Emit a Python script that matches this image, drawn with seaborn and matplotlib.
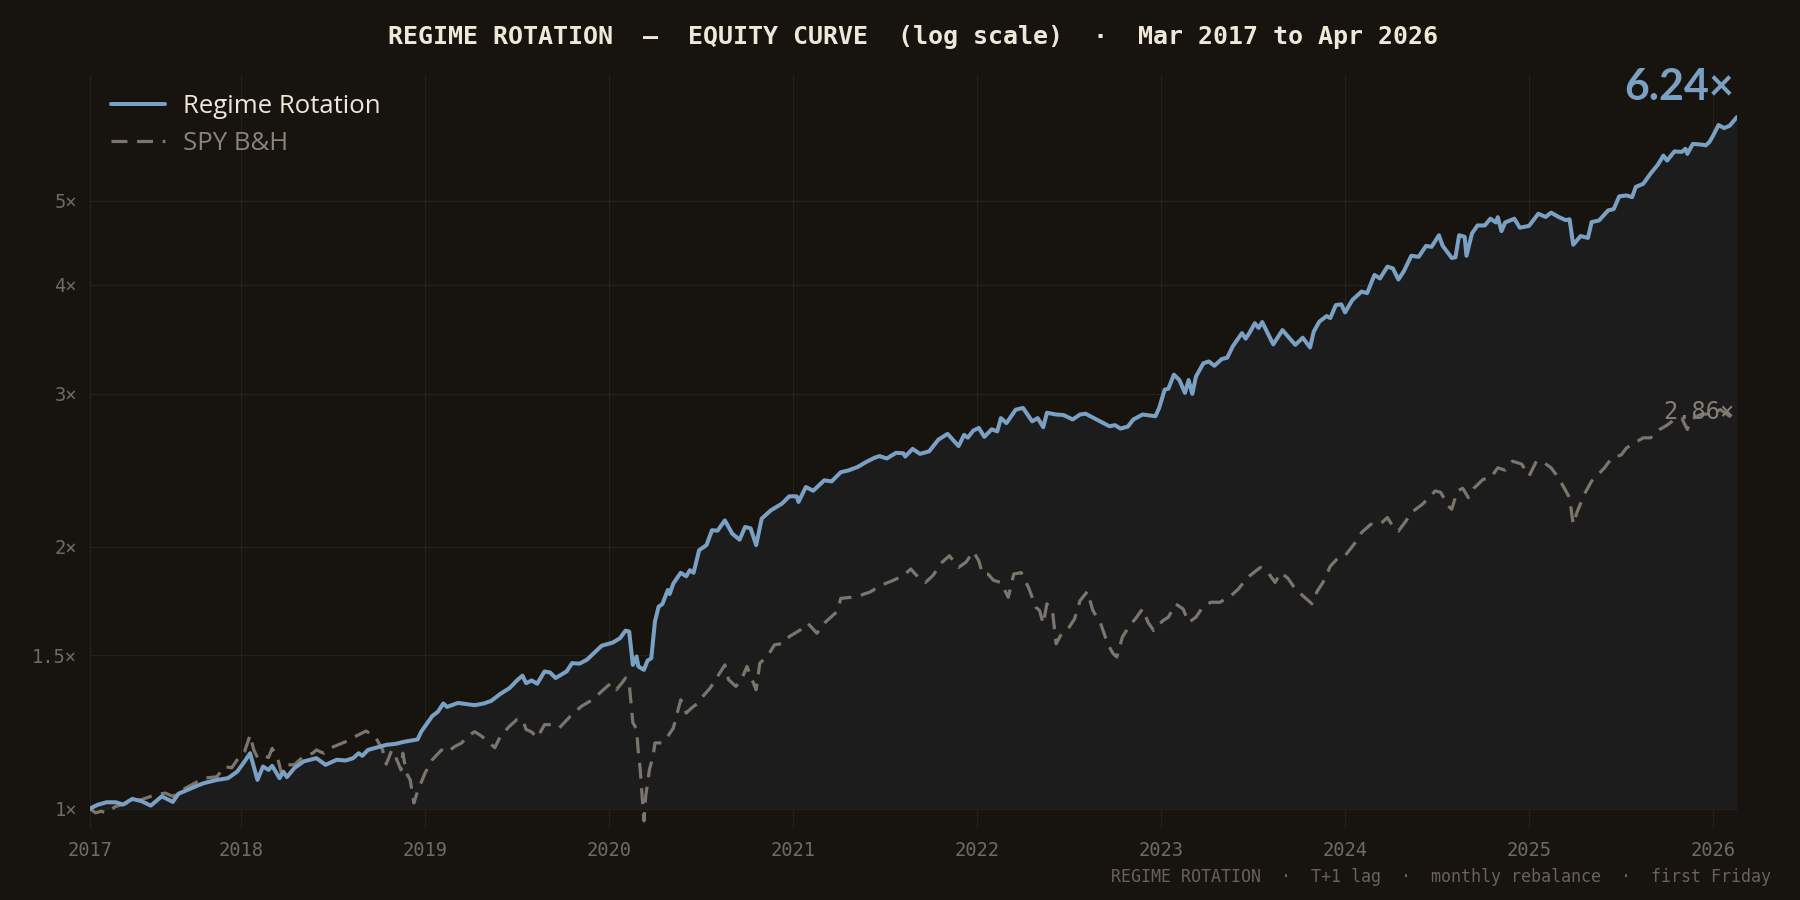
import matplotlib
matplotlib.use("Agg")
import matplotlib.pyplot as plt
import seaborn as sns
from matplotlib.ticker import FixedLocator, NullLocator

# --- data (decimal year, growth of 1) ---
regime_t = [2017.18, 2017.22, 2017.27, 2017.32, 2017.36, 2017.41, 2017.46, 2017.51, 2017.57, 2017.63,
            2017.66, 2017.71, 2017.76, 2017.80, 2017.87, 2017.93, 2017.98, 2018.02, 2018.05, 2018.09,
            2018.12, 2018.15, 2018.17, 2018.21, 2018.23, 2018.25, 2018.29, 2018.34, 2018.41, 2018.46,
            2018.52, 2018.57, 2018.61, 2018.64, 2018.66, 2018.69, 2018.74, 2018.79, 2018.84, 2018.89,
            2018.96, 2018.98, 2019.04, 2019.07, 2019.10, 2019.12, 2019.18, 2019.27, 2019.32, 2019.36,
            2019.41, 2019.46, 2019.50, 2019.53, 2019.55, 2019.58, 2019.61, 2019.65, 2019.68, 2019.71,
            2019.77, 2019.80, 2019.84, 2019.88, 2019.96, 2020.02, 2020.06, 2020.09, 2020.11, 2020.13,
            2020.15, 2020.16, 2020.19, 2020.21, 2020.23, 2020.25, 2020.27, 2020.29, 2020.32, 2020.33,
            2020.35, 2020.39, 2020.42, 2020.44, 2020.46, 2020.49, 2020.53, 2020.56, 2020.59, 2020.63,
            2020.67, 2020.71, 2020.74, 2020.77, 2020.80, 2020.83, 2020.88, 2020.94, 2020.98, 2021.02,
            2021.03, 2021.07, 2021.11, 2021.17, 2021.21, 2021.26, 2021.30, 2021.35, 2021.40, 2021.44,
            2021.47, 2021.51, 2021.56, 2021.60, 2021.61, 2021.65, 2021.69, 2021.74, 2021.79, 2021.84,
            2021.90, 2021.93, 2021.95, 2021.98, 2022.01, 2022.04, 2022.08, 2022.11, 2022.13, 2022.16,
            2022.21, 2022.25, 2022.30, 2022.33, 2022.36, 2022.38, 2022.43, 2022.47, 2022.52, 2022.56,
            2022.59, 2022.65, 2022.72, 2022.75, 2022.78, 2022.82, 2022.85, 2022.90, 2022.97, 2022.99,
            2023.02, 2023.04, 2023.07, 2023.10, 2023.13, 2023.15, 2023.17, 2023.19, 2023.23, 2023.26,
            2023.29, 2023.33, 2023.36, 2023.39, 2023.44, 2023.46, 2023.48, 2023.51, 2023.53, 2023.55,
            2023.61, 2023.66, 2023.69, 2023.73, 2023.77, 2023.81, 2023.83, 2023.86, 2023.90, 2023.92,
            2023.95, 2023.98, 2024.00, 2024.04, 2024.09, 2024.12, 2024.16, 2024.19, 2024.23, 2024.26,
            2024.29, 2024.32, 2024.36, 2024.40, 2024.44, 2024.47, 2024.51, 2024.53, 2024.58, 2024.60,
            2024.62, 2024.65, 2024.66, 2024.69, 2024.72, 2024.76, 2024.79, 2024.82, 2024.83, 2024.85,
            2024.87, 2024.92, 2024.95, 2025.00, 2025.05, 2025.09, 2025.12, 2025.16, 2025.20, 2025.22,
            2025.24, 2025.28, 2025.32, 2025.34, 2025.38, 2025.43, 2025.46, 2025.49, 2025.53, 2025.56,
            2025.58, 2025.62, 2025.66, 2025.70, 2025.73, 2025.75, 2025.79, 2025.83, 2025.85, 2025.86,
            2025.89, 2025.94, 2025.96, 2025.98, 2026.00, 2026.03, 2026.06, 2026.09, 2026.13]
regime_v = [1.000, 1.010, 1.017, 1.017, 1.011, 1.026, 1.020, 1.008, 1.033, 1.018,
            1.040, 1.051, 1.062, 1.070, 1.079, 1.084, 1.103, 1.133, 1.158, 1.079,
            1.118, 1.108, 1.120, 1.084, 1.103, 1.087, 1.113, 1.133, 1.143, 1.123,
            1.138, 1.136, 1.143, 1.158, 1.150, 1.168, 1.176, 1.184, 1.187, 1.194,
            1.201, 1.226, 1.278, 1.292, 1.321, 1.309, 1.323, 1.315, 1.321, 1.330,
            1.355, 1.376, 1.404, 1.422, 1.394, 1.404, 1.392, 1.438, 1.434, 1.413,
            1.438, 1.470, 1.468, 1.483, 1.539, 1.552, 1.570, 1.602, 1.598, 1.463,
            1.496, 1.457, 1.444, 1.480, 1.489, 1.641, 1.707, 1.718, 1.784, 1.765,
            1.815, 1.867, 1.850, 1.880, 1.867, 1.982, 2.009, 2.090, 2.087, 2.145,
            2.071, 2.038, 2.108, 2.100, 2.009, 2.155, 2.203, 2.242, 2.286, 2.286,
            2.252, 2.343, 2.320, 2.385, 2.378, 2.437, 2.448, 2.470, 2.505, 2.530,
            2.543, 2.527, 2.565, 2.562, 2.540, 2.592, 2.558, 2.575, 2.656, 2.697,
            2.611, 2.690, 2.670, 2.721, 2.740, 2.676, 2.730, 2.715, 2.812, 2.775,
            2.875, 2.889, 2.788, 2.812, 2.745, 2.852, 2.839, 2.835, 2.802, 2.839,
            2.845, 2.802, 2.752, 2.760, 2.735, 2.750, 2.802, 2.839, 2.826, 2.889,
            3.032, 3.040, 3.155, 3.110, 3.006, 3.110, 2.998, 3.139, 3.251, 3.267,
            3.230, 3.288, 3.300, 3.401, 3.522, 3.470, 3.522, 3.615, 3.570, 3.626,
            3.418, 3.550, 3.490, 3.414, 3.479, 3.390, 3.536, 3.630, 3.684, 3.665,
            3.793, 3.800, 3.720, 3.845, 3.931, 3.915, 4.108, 4.070, 4.199, 4.180,
            4.059, 4.150, 4.322, 4.310, 4.436, 4.425, 4.563, 4.440, 4.297, 4.305,
            4.563, 4.545, 4.322, 4.586, 4.683, 4.683, 4.768, 4.720, 4.787, 4.613,
            4.720, 4.768, 4.655, 4.678, 4.831, 4.790, 4.845, 4.790, 4.749, 4.760,
            4.450, 4.553, 4.531, 4.726, 4.745, 4.874, 4.890, 5.058, 5.070, 5.048,
            5.186, 5.228, 5.371, 5.501, 5.635, 5.560, 5.697, 5.690, 5.737, 5.660,
            5.812, 5.800, 5.789, 5.840, 5.940, 6.110, 6.060, 6.098, 6.240]

spy_t = [2017.18, 2017.21, 2017.24, 2017.27, 2017.32, 2017.36, 2017.41, 2017.46, 2017.51, 2017.54,
         2017.59, 2017.63, 2017.70, 2017.75, 2017.80, 2017.87, 2017.91, 2017.95, 2017.98, 2018.02,
         2018.05, 2018.07, 2018.09, 2018.12, 2018.15, 2018.17, 2018.20, 2018.22, 2018.25, 2018.29,
         2018.34, 2018.39, 2018.41, 2018.45, 2018.48, 2018.52, 2018.57, 2018.62, 2018.68, 2018.73,
         2018.77, 2018.79, 2018.82, 2018.84, 2018.87, 2018.88, 2018.90, 2018.92, 2018.94, 2018.96,
         2019.00, 2019.04, 2019.09, 2019.12, 2019.16, 2019.20, 2019.23, 2019.27, 2019.30, 2019.33,
         2019.38, 2019.41, 2019.46, 2019.50, 2019.53, 2019.55, 2019.58, 2019.61, 2019.65, 2019.69,
         2019.73, 2019.79, 2019.85, 2019.91, 2019.96, 2020.01, 2020.04, 2020.07, 2020.09, 2020.11,
         2020.13, 2020.15, 2020.16, 2020.17, 2020.19, 2020.20, 2020.21, 2020.22, 2020.24, 2020.25,
         2020.29, 2020.32, 2020.35, 2020.39, 2020.42, 2020.44, 2020.46, 2020.48, 2020.51, 2020.55,
         2020.59, 2020.63, 2020.65, 2020.69, 2020.72, 2020.75, 2020.77, 2020.80, 2020.82, 2020.86,
         2020.90, 2020.95, 2020.98, 2021.04, 2021.08, 2021.13, 2021.17, 2021.24, 2021.26, 2021.32,
         2021.37, 2021.42, 2021.48, 2021.54, 2021.60, 2021.64, 2021.69, 2021.72, 2021.76, 2021.81,
         2021.85, 2021.90, 2021.94, 2021.98, 2022.01, 2022.03, 2022.06, 2022.09, 2022.13, 2022.17,
         2022.20, 2022.24, 2022.28, 2022.32, 2022.34, 2022.36, 2022.38, 2022.41, 2022.43, 2022.46,
         2022.50, 2022.53, 2022.56, 2022.60, 2022.63, 2022.67, 2022.71, 2022.74, 2022.76, 2022.79,
         2022.83, 2022.86, 2022.90, 2022.93, 2022.96, 2023.01, 2023.04, 2023.08, 2023.12, 2023.15,
         2023.19, 2023.22, 2023.27, 2023.32, 2023.38, 2023.42, 2023.47, 2023.54, 2023.58, 2023.62,
         2023.65, 2023.69, 2023.73, 2023.78, 2023.82, 2023.85, 2023.88, 2023.92, 2023.96, 2024.00,
         2024.05, 2024.09, 2024.14, 2024.19, 2024.23, 2024.27, 2024.29, 2024.33, 2024.36, 2024.42,
         2024.49, 2024.52, 2024.56, 2024.58, 2024.61, 2024.64, 2024.67, 2024.70, 2024.75, 2024.79,
         2024.83, 2024.87, 2024.91, 2024.96, 2025.00, 2025.04, 2025.08, 2025.12, 2025.16, 2025.19,
         2025.22, 2025.24, 2025.26, 2025.30, 2025.34, 2025.37, 2025.41, 2025.45, 2025.50, 2025.53,
         2025.57, 2025.62, 2025.66, 2025.71, 2025.75, 2025.79, 2025.83, 2025.86, 2025.88, 2025.93,
         2025.98, 2026.04, 2026.09, 2026.13]
spy_v = [1.000, 0.989, 0.993, 0.989, 1.006, 1.011, 1.020, 1.024, 1.033, 1.038,
         1.042, 1.033, 1.056, 1.070, 1.084, 1.088, 1.118, 1.114, 1.138, 1.163,
         1.215, 1.168, 1.145, 1.153, 1.145, 1.173, 1.143, 1.098, 1.123, 1.123,
         1.148, 1.158, 1.168, 1.158, 1.173, 1.182, 1.194, 1.210, 1.228, 1.210,
         1.168, 1.125, 1.168, 1.148, 1.108, 1.158, 1.098, 1.079, 1.015, 1.047,
         1.098, 1.138, 1.168, 1.160, 1.178, 1.190, 1.210, 1.226, 1.215, 1.201,
         1.175, 1.211, 1.244, 1.266, 1.266, 1.233, 1.225, 1.206, 1.249, 1.249,
         1.238, 1.277, 1.311, 1.334, 1.364, 1.394, 1.370, 1.394, 1.413, 1.394,
         1.255, 1.235, 1.159, 1.109, 0.968, 1.034, 1.071, 1.109, 1.149, 1.190,
         1.190, 1.211, 1.238, 1.334, 1.288, 1.300, 1.311, 1.320, 1.346, 1.376,
         1.419, 1.463, 1.407, 1.382, 1.407, 1.457, 1.420, 1.370, 1.470, 1.496,
         1.543, 1.549, 1.577, 1.605, 1.634, 1.591, 1.634, 1.685, 1.745, 1.750,
         1.760, 1.775, 1.807, 1.828, 1.853, 1.886, 1.836, 1.820, 1.853, 1.920,
         1.953, 1.894, 1.920, 1.975, 1.927, 1.861, 1.861, 1.830, 1.820, 1.750,
         1.861, 1.868, 1.796, 1.704, 1.690, 1.631, 1.720, 1.689, 1.547, 1.590,
         1.616, 1.652, 1.734, 1.777, 1.689, 1.637, 1.547, 1.507, 1.494, 1.575,
         1.624, 1.652, 1.697, 1.637, 1.602, 1.645, 1.660, 1.719, 1.697, 1.637,
         1.660, 1.697, 1.727, 1.727, 1.757, 1.788, 1.844, 1.894, 1.870, 1.820,
         1.868, 1.840, 1.788, 1.750, 1.720, 1.780, 1.820, 1.900, 1.940, 1.953,
         2.015, 2.077, 2.123, 2.123, 2.161, 2.096, 2.085, 2.140, 2.190, 2.238,
         2.319, 2.310, 2.229, 2.209, 2.319, 2.335, 2.278, 2.335, 2.391, 2.400,
         2.465, 2.450, 2.509, 2.490, 2.412, 2.509, 2.500, 2.465, 2.401, 2.339,
         2.278, 2.123, 2.190, 2.298, 2.380, 2.416, 2.465, 2.532, 2.550, 2.599,
         2.630, 2.669, 2.669, 2.729, 2.760, 2.801, 2.810, 2.729, 2.801, 2.838,
         2.845, 2.876, 2.826, 2.860]

year_ticks = [2017.18, 2018, 2019, 2020, 2021, 2022, 2023, 2024, 2025, 2026]
year_labels = ['2017', '2018', '2019', '2020', '2021', '2022', '2023', '2024', '2025', '2026']
mult_ticks = [1, 1.5, 2, 3, 4, 5]
mult_labels = ['1×', '1.5×', '2×', '3×', '4×', '5×']

BG = '#17130f'
FILL = '#1c1c1d'
BLUE = '#7aa0c3'
GREY = '#7b756c'
TICK = '#6f6a62'
CREAM = '#efe7d8'
MONO = 'DejaVu Sans Mono'
SANS = 'Lato'
LEG = 'Open Sans'

sns.set_theme(style='dark')
plt.rcParams['font.family'] = [SANS, 'DejaVu Sans']
plt.rcParams['figure.facecolor'] = BG
plt.rcParams['axes.facecolor'] = BG

fig = plt.figure(figsize=(18, 9), dpi=100)
ax = fig.add_axes([0.05, 0.08, 0.915, 0.837])

ax.fill_between(regime_t, 1, regime_v, color=FILL, lw=0, zorder=1)
sns.lineplot(x=spy_t, y=spy_v, ax=ax, color=GREY, lw=2.3, label='SPY B&H', zorder=2)
sns.lineplot(x=regime_t, y=regime_v, ax=ax, color=BLUE, lw=2.9, label='Regime Rotation', zorder=3)
ax.lines[0].set_linestyle((0, (5, 3)))

ax.set_yscale('log')
ax.set_ylim(0.95, 6.98)
ax.set_xlim(regime_t[0], regime_t[-1])
ax.yaxis.set_major_locator(FixedLocator(mult_ticks))
ax.yaxis.set_minor_locator(NullLocator())
ax.set_yticklabels(mult_labels)
ax.set_xticks(year_ticks)
ax.set_xticklabels(year_labels)

ax.grid(True, color='#25221e', lw=0.9)
ax.set_axisbelow(True)
for s in ax.spines.values():
    s.set_visible(False)
ax.tick_params(axis='both', colors='#4a4540', labelcolor=TICK, labelsize=13.5, length=4.5, width=0.8, pad=5)
for lab in ax.get_xticklabels() + ax.get_yticklabels():
    lab.set_family(MONO)

# legend, reordered so the strategy comes first
h, l = ax.get_legend_handles_labels()
leg = ax.legend([h[1], h[0]], [l[1], l[0]], loc='upper left', bbox_to_anchor=(111 / 1800, 1 - 94 / 900),
                bbox_transform=fig.transFigure, frameon=False, prop={'family': LEG, 'size': 18.5},
                handlelength=2.1, handletextpad=0.7, labelspacing=0.45, borderpad=0, borderaxespad=0)
leg.get_texts()[0].set_color(CREAM)
leg.get_texts()[1].set_color('#8a847b')

# end labels
ax.annotate(f'{regime_v[-1]:.2f}×', xy=(regime_t[-1], regime_v[-1]), xytext=(-2, 12),
            textcoords='offset points', ha='right', va='baseline', fontsize=31,
            fontweight='bold', family=SANS, color=BLUE, zorder=5)
ax.annotate(f'{spy_v[-1]:.2f}×', xy=(spy_t[-1], spy_v[-1]), xytext=(-2, 0),
            textcoords='offset points', ha='right', va='center', fontsize=17,
            family=MONO, color='#857f76', zorder=5)

fig.text(0.5075, 0.959, 'REGIME ROTATION  —  EQUITY CURVE  (log scale)  ·  Mar 2017 to Apr 2026',
         ha='center', va='center', family=MONO, fontweight='bold', fontsize=18, color=CREAM)
fig.text(1771 / 1800, 0.02, 'REGIME ROTATION  ·  T+1 lag  ·  monthly rebalance  ·  first Friday',
         ha='right', va='baseline', family=MONO, fontsize=12, color='#68625b')

fig.savefig('out.png', dpi=100, facecolor=BG)
